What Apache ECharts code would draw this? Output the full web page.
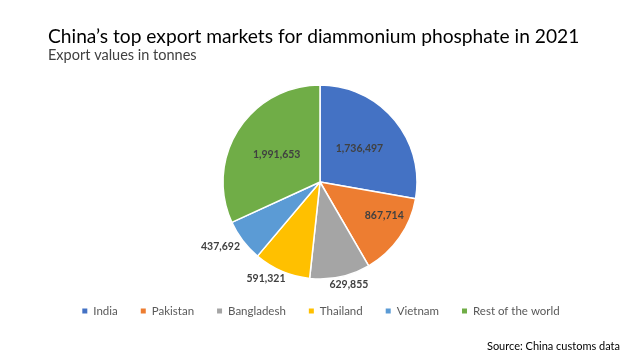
<!DOCTYPE html>
<html><head><meta charset="utf-8">
<script src="https://cdn.jsdelivr.net/npm/echarts@6/dist/echarts.min.js"></script>
<style>html,body{margin:0;padding:0;background:#fff}#c{width:640px;height:360px}</style>
</head><body><div id="c"></div>
<script>
const categories = ["India", "Pakistan", "Bangladesh", "Thailand", "Vietnam", "Rest of the world"];
const values = [1736497, 867714, 629855, 591321, 437692, 1991653];
const colors = ["#4472C4", "#ED7D31", "#A5A5A5", "#FFC000", "#5B9BD5", "#70AD47"];
const labelPos = ["inside", "inside", "outside", "outside", "outside", "inside"];
const labelOffsets = [[0, 0], [22, 4], [-14, 2], [8, 2], [4, 2], [0, 0]];

const chart = echarts.init(document.getElementById('c'));
const FONT = 'Lato';
chart.setOption({
  backgroundColor: '#fff',
  animation: false,
  title: [{
    text: 'China\u2019s top export markets for diammonium phosphate in 2021',
    left: 43, top: 22,
    textStyle: { fontFamily: FONT, fontSize: 19.2, fontWeight: 'normal', color: '#000' },
    subtext: 'Export values in tonnes',
    subtextStyle: { fontFamily: FONT, fontSize: 14.5, color: '#404040' },
    itemGap: 2
  }, {
    text: 'Source: China customs data',
    right: 15, top: 336,
    textStyle: { fontFamily: FONT, fontSize: 11, fontWeight: 'normal', color: '#000' }
  }],
  legend: {
    data: categories,
    top: 300, left: 'center',
    icon: 'rect', itemWidth: 7, itemHeight: 7, itemGap: 21,
    textStyle: { fontFamily: FONT, fontSize: 11.5, color: '#595959' }
  },
  series: [{
    type: 'pie',
    center: [320, 182],
    radius: 97,
    startAngle: 90,
    clockwise: true,
    avoidLabelOverlap: false,
    itemStyle: { borderColor: '#fff', borderWidth: 1.5 },
    label: { fontFamily: FONT, fontSize: 10.5, fontWeight: 'bold', color: '#404040',
      formatter: p => p.value.toLocaleString('en-US') },
    labelLine: { show: false, length: 6, length2: 0 },
    data: categories.map((c, i) => ({
      name: c, value: values[i],
      itemStyle: { color: colors[i] },
      label: { position: labelPos[i], offset: labelOffsets[i], distanceToLabelLine: 2 }
    }))
  }]
});
</script></body></html>
